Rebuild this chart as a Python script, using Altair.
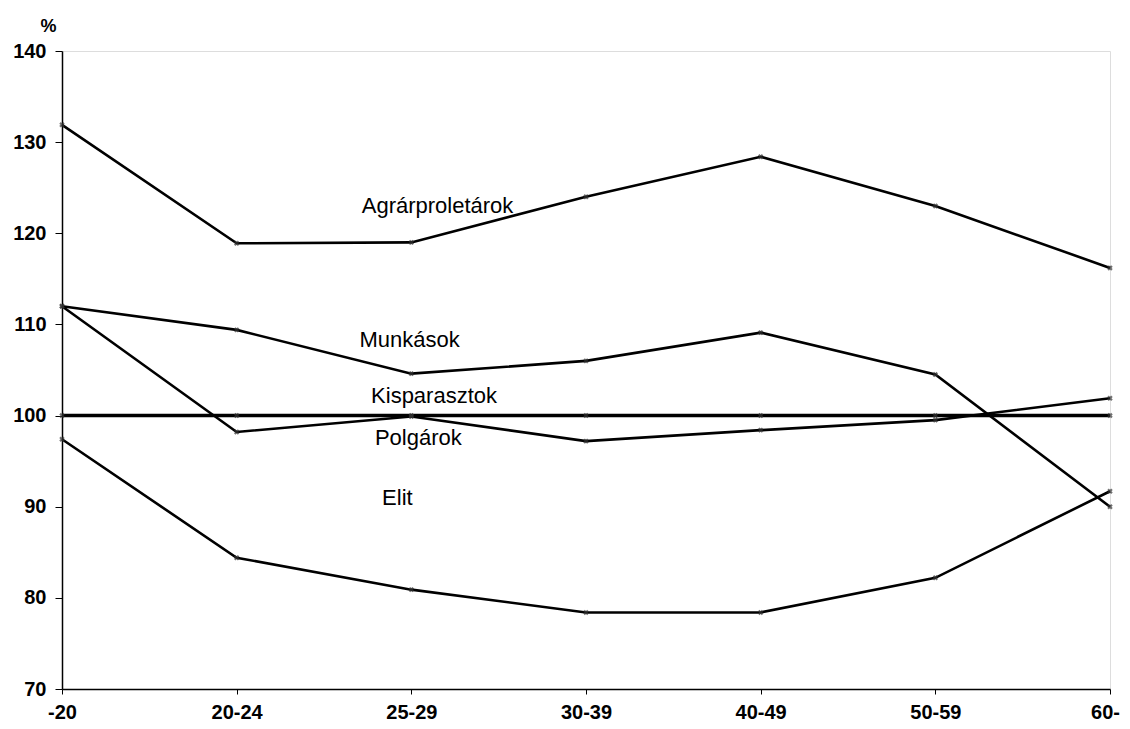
import altair as alt
import pandas as pd

ages = ["-20", "20-24", "25-29", "30-39", "40-49", "50-59", "60-"]

agrarproletarok = [131.9, 118.9, 119.0, 124.0, 128.4, 123.0, 116.2]
munkasok = [112.0, 109.4, 104.6, 106.0, 109.1, 104.5, 90.0]
kisparasztok = [100.0, 100.0, 100.0, 100.0, 100.0, 100.0, 100.0]
polgarok = [112.0, 98.2, 99.9, 97.2, 98.4, 99.5, 101.9]
elit = [97.4, 84.4, 80.9, 78.4, 78.4, 82.2, 91.7]

series = {
    "Agrárproletárok": agrarproletarok,
    "Munkások": munkasok,
    "Kisparasztok": kisparasztok,
    "Polgárok": polgarok,
    "Elit": elit,
}

label_names = ["Agrárproletárok", "Munkások", "Kisparasztok", "Polgárok", "Elit"]
label_x = [2.15, 1.99, 2.13, 2.04, 1.92]
label_y = [123.0, 108.3, 102.15, 97.5, 91.0]

rows = []
for name, vals in series.items():
    for i, v in enumerate(vals):
        rows.append({"group": name, "idx": i, "value": v})
df = pd.DataFrame(rows)
labels_df = pd.DataFrame({"name": label_names, "x": label_x, "y": label_y})

label_expr = "[" + ",".join(f"'{a}'" for a in ages) + "][datum.value]"
last_idx = len(ages) - 1

FONT = "Liberation Sans"

x_enc = alt.X(
    "idx:Q",
    scale=alt.Scale(domain=[0, last_idx], nice=False, zero=False),
    axis=alt.Axis(
        values=list(range(len(ages))),
        labelExpr=label_expr,
        labelFlush=False,
        labelOverlap=False,
        labelOffset={"condition": {"test": f"datum.value == {last_idx}", "value": -5}, "value": 0},
        title=None,
        grid=False,
        domainColor="black",
        domainWidth=1.5,
        tickColor="black",
        tickSize=5,
        labelFont=FONT,
        labelFontSize=20,
        labelFontWeight="bold",
        labelColor="black",
        labelPadding=8,
    ),
)
y_enc = alt.Y(
    "value:Q",
    scale=alt.Scale(domain=[70, 140], nice=False, zero=False),
    axis=alt.Axis(
        values=[70, 80, 90, 100, 110, 120, 130, 140],
        title="%",
        titleAngle=0,
        titleX=-14,
        titleY=-25,
        titleAlign="center",
        titleBaseline="middle",
        titleFont=FONT,
        titleFontSize=18,
        titleFontWeight="bold",
        grid=False,
        labelFlush=False,
        domainColor="black",
        domainWidth=1.5,
        tickColor="black",
        tickSize=7,
        labelFont=FONT,
        labelFontSize=20,
        labelFontWeight="bold",
        labelColor="black",
        labelPadding=9,
    ),
)

base = alt.Chart(df)

lines = base.transform_filter(alt.datum.group != "Kisparasztok").mark_line(
    color="black", strokeWidth=2.6
).encode(x=x_enc, y=y_enc, detail="group:N")

kis_line = base.transform_filter(alt.datum.group == "Kisparasztok").mark_line(
    color="black", strokeWidth=3.5
).encode(x=x_enc, y=y_enc)

points = base.mark_point(
    shape="cross", angle=45, filled=True, color="#333333", size=30
).encode(x=x_enc, y=y_enc)

texts = alt.Chart(labels_df).mark_text(
    font=FONT, fontSize=22, color="black", align="center", baseline="middle"
).encode(
    x=alt.X("x:Q"),
    y=alt.Y("y:Q"),
    text="name:N",
)

chart = (
    alt.layer(lines, kis_line, points, texts)
    .properties(
        width=1048,
        height=638,
        autosize=alt.AutoSizeParams(type="none"),
        padding={"left": 54, "top": 43, "right": 12, "bottom": 32},
    )
    .configure_view(stroke=None)
    .configure(background="white")
)

chart.save("out.html", embed_options={"renderer": "svg", "actions": False})
